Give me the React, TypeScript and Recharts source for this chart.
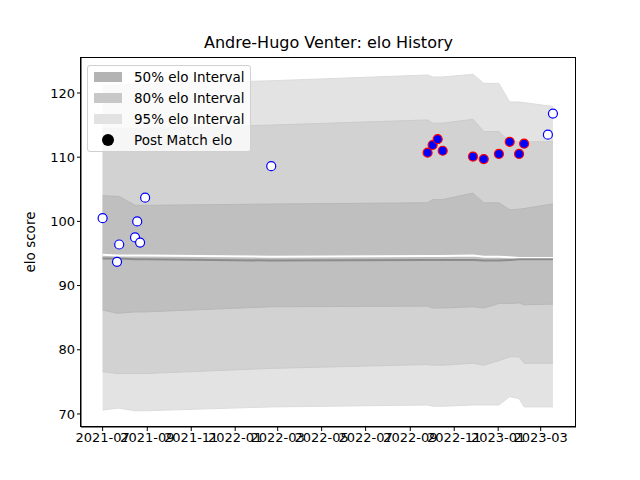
import { ComposedChart, Area, Line, Scatter, XAxis, YAxis } from "recharts";

const matchDates = [
  "2021-07-01", "2021-07-21", "2021-07-24", "2021-08-15", "2021-08-18", "2021-08-22", "2021-08-29",
  "2022-02-20", "2022-09-25", "2022-10-02", "2022-10-09", "2022-10-16", "2022-11-27", "2022-12-12",
  "2023-01-02", "2023-01-17", "2023-01-30", "2023-02-06", "2023-03-11", "2023-03-18",
];
const postElo = [
  100.5, 93.7, 96.4, 97.5, 100.0, 96.7, 103.7, 108.6, 110.7, 111.9,
  112.8, 111.0, 110.1, 109.7, 110.5, 112.4, 110.5, 112.1, 113.5, 116.8,
];
const filled = [
  false, false, false, false, false, false, false, false, true, true,
  true, true, true, true, true, true, true, true, false, false,
];
const upper95 = [121.1, 121.2, 121.2, 121.4, 121.4, 121.4, 121.4, 121.9, 122.8, 122.5, 122.5, 122.5, 122.9, 121.5, 121.5, 118.6, 118.6, 118.5, 118.0, 117.9];
const upper80 = [114.5, 114.5, 114.5, 114.5, 114.5, 114.5, 114.5, 115.0, 115.8, 115.3, 115.3, 115.3, 115.9, 114.0, 114.0, 112.4, 112.4, 112.4, 112.4, 112.5];
const upper50 = [104.0, 103.9, 103.9, 102.5, 102.5, 102.5, 102.5, 102.7, 102.9, 103.4, 103.4, 103.4, 104.4, 102.9, 102.9, 101.8, 101.9, 102.0, 102.6, 102.7];
const lower50 = [86.2, 85.7, 85.7, 85.9, 85.9, 85.9, 85.9, 86.7, 86.8, 86.5, 86.5, 86.5, 86.7, 86.5, 87.2, 87.2, 87.3, 87.0, 87.1, 87.1];
const lower80 = [76.6, 76.3, 76.3, 76.3, 76.3, 76.3, 76.3, 77.1, 77.7, 77.6, 77.6, 77.6, 77.9, 77.6, 78.3, 78.9, 78.9, 77.9, 77.9, 77.9];
const lower95 = [70.6, 70.9, 70.9, 70.5, 70.5, 70.5, 70.5, 71.1, 71.4, 71.2, 71.2, 71.2, 71.4, 71.4, 71.4, 72.7, 72.4, 71.1, 71.1, 71.1];
const meanElo = [94.8, 94.7, 94.7, 94.7, 94.7, 94.7, 94.7, 94.5, 94.6, 94.6, 94.6, 94.6, 94.7, 94.5, 94.5, 94.4, 94.3, 94.3, 94.3, 94.3];
const medianElo = [94.2, 94.2, 94.2, 94.1, 94.1, 94.1, 94.1, 93.9, 94.0, 94.0, 94.0, 94.0, 94.0, 93.9, 93.9, 94.0, 94.1, 94.1, 94.1, 94.1];
const tickDates = [
  "2021-07-01", "2021-09-01", "2021-11-01", "2022-01-01", "2022-03-01", "2022-05-01",
  "2022-07-01", "2022-09-01", "2022-11-01", "2023-01-01", "2023-03-01",
];
const yTicks = [70, 80, 90, 100, 110, 120];

const ts = (d: string) => Date.parse(d + "T00:00:00Z");

const data = matchDates.map((d, i) => ({
  t: ts(d),
  b95: [lower95[i], upper95[i]],
  b80: [lower80[i], upper80[i]],
  b50: [lower50[i], upper50[i]],
  mean: meanElo[i],
  median: medianElo[i],
}));
const points = matchDates.map((d, i) => ({ t: ts(d), v: postElo[i], filled: filled[i] }));

const fmt = (v: number) => {
  const d = new Date(v);
  return `${d.getUTCFullYear()}-${String(d.getUTCMonth() + 1).padStart(2, "0")}`;
};

const font = "DejaVu Sans, sans-serif";

const Dot = (p: any) => {
  if (p.cx == null) return null;
  const f = p.payload.filled;
  return <circle cx={p.cx} cy={p.cy} r={4.5} fill={f ? "#0000ff" : "#ffffff"} stroke={f ? "#ff0000" : "#0000ff"} strokeWidth={1.2} />;
};

const legendItems = [
  { label: "50% elo Interval", color: "#b3b3b3" },
  { label: "80% elo Interval", color: "#c8c8c8" },
  { label: "95% elo Interval", color: "#e2e2e2" },
];

const LegendBox = () => (
  <div style={{ position: "absolute", left: 87, top: 65, width: 164, height: 87, background: "rgba(255,255,255,0.8)", border: "1px solid #d0d0d0", borderRadius: 3, fontFamily: font, fontSize: 13.5, boxSizing: "border-box" }}>
    {legendItems.map((it, i) => (
      <div key={i} style={{ position: "absolute", left: 6, top: 3 + i * 21, display: "flex", alignItems: "center" }}>
        <div style={{ width: 28, height: 10, background: it.color }} />
        <span style={{ marginLeft: 12 }}>{it.label}</span>
      </div>
    ))}
    <div style={{ position: "absolute", left: 6, top: 66, display: "flex", alignItems: "center" }}>
      <div style={{ width: 28, display: "flex", justifyContent: "center" }}>
        <div style={{ width: 12, height: 12, borderRadius: 6, background: "#000" }} />
      </div>
      <span style={{ marginLeft: 12 }}>Post Match elo</span>
    </div>
  </div>
);

export default function App() {
  return (
    <div style={{ position: "absolute", left: 0, top: 0, width: 640, height: 480, background: "#fff" }}>
      <div style={{ position: "absolute", left: 81, width: 495, top: 33, textAlign: "center", fontFamily: font, fontSize: 16 }}>
        Andre-Hugo Venter: elo History
      </div>
      <div style={{ position: "absolute", left: 30, top: 242, transform: "translate(-50%,-50%) rotate(-90deg)", fontFamily: font, fontSize: 13.5, whiteSpace: "nowrap" }}>
        elo score
      </div>
      <ComposedChart width={640} height={480} data={data} margin={{ top: 58, right: 64, bottom: 0, left: 0 }}>
        <XAxis
          dataKey="t"
          type="number"
          domain={[ts("2021-06-01"), ts("2023-04-19")]}
          ticks={tickDates.map(ts)}
          tickFormatter={fmt}
          height={53}
          stroke="#000"
          tickSize={4}
          interval={0}
          allowDataOverflow
          tick={{ fill: "#000", fontFamily: font, fontSize: 13 }}
        />
        <YAxis
          type="number"
          domain={[67.97, 125.45]}
          ticks={yTicks}
          width={81}
          stroke="#000"
          tickSize={4}
          allowDataOverflow
          tick={{ fill: "#000", fontFamily: font, fontSize: 13 }}
        />
        <Area dataKey="b95" type="linear" fill="#e3e3e3" fillOpacity={1} stroke="#dcdcdc" isAnimationActive={false} />
        <Area dataKey="b80" type="linear" fill="#d2d2d2" fillOpacity={1} stroke="#cbcbcb" isAnimationActive={false} />
        <Area dataKey="b50" type="linear" fill="#bfbfbf" fillOpacity={1} stroke="#b8b8b8" isAnimationActive={false} />
        <Line dataKey="mean" type="linear" stroke="#ffffff" strokeWidth={2} dot={false} isAnimationActive={false} />
        <Line dataKey="median" type="linear" stroke="#8c8c8c" strokeWidth={2} dot={false} isAnimationActive={false} />
        <Scatter data={points} dataKey="v" shape={Dot} isAnimationActive={false} />
      </ComposedChart>
      <div style={{ position: "absolute", left: 80, top: 57, width: 496, height: 370, border: "1px solid #000", boxSizing: "border-box", pointerEvents: "none" }} />
      <LegendBox />
    </div>
  );
}
